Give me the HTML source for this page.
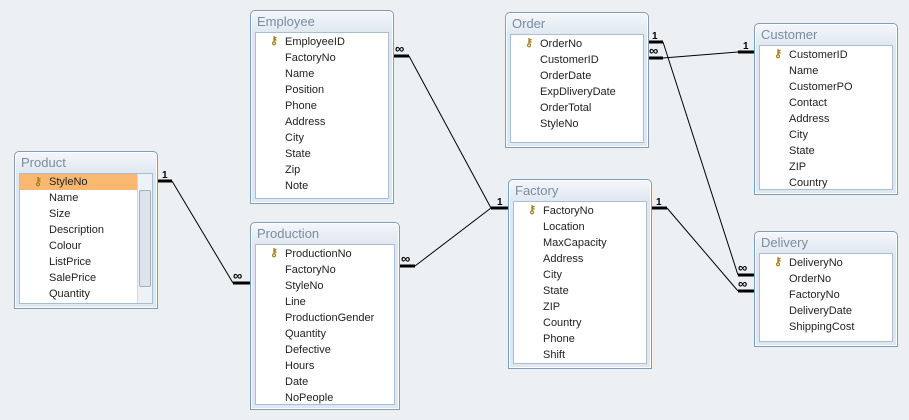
<!DOCTYPE html>
<html><head><meta charset="utf-8"><style>
body{margin:0;width:909px;height:420px;background:#edf0f3;position:relative;overflow:hidden;font-family:"Liberation Sans",sans-serif}
.t{position:absolute;border:1px solid #7f9db9;border-radius:5px 5px 0 0;background:linear-gradient(#f4f7fb,#dfe7f1 22px,#dfe7f1);box-shadow:inset 0 0 0 1px #fff}
.t .h{height:20px;line-height:22px;padding-left:6px;font-size:13px;color:#7a8ca0}
.t .b{position:absolute;left:4px;right:4px;top:21px;bottom:4px;background:#fff;border:1px solid #a9bdd3}
.r{position:absolute;left:0;font-size:11px;color:#222;height:16px;line-height:16px}
.k{position:absolute;font-size:11px;color:#a08020;font-weight:bold}
svg{position:absolute;left:0;top:0}
</style></head><body>
<svg width="909" height="420" stroke="#000">
<g stroke-width="1">
<line x1="172" y1="181" x2="233" y2="283"/>
<line x1="409" y1="56" x2="491" y2="208"/>
<line x1="415" y1="266" x2="491" y2="208"/>
<line x1="663" y1="58" x2="738" y2="52"/>
<line x1="663" y1="42" x2="738" y2="275"/>
<line x1="667" y1="208" x2="738" y2="291"/>
</g>
<g stroke-width="3">
<line x1="157" y1="181" x2="172" y2="181"/><line x1="233" y1="283" x2="250" y2="283"/>
<line x1="393" y1="56" x2="409" y2="56"/><line x1="491" y1="208" x2="508" y2="208"/>
<line x1="399" y1="266" x2="415" y2="266"/>
<line x1="647" y1="58" x2="663" y2="58"/><line x1="738" y1="52" x2="754" y2="52"/>
<line x1="647" y1="42" x2="663" y2="42"/><line x1="738" y1="275" x2="754" y2="275"/>
<line x1="651" y1="208" x2="667" y2="208"/><line x1="738" y1="291" x2="754" y2="291"/>
</g>
<g stroke="none" font-family="Liberation Sans" font-weight="bold" font-size="10">
<text x="162" y="178">1</text><text x="233" y="280" font-size="13">∞</text>
<text x="395" y="53" font-size="13">∞</text><text x="497" y="205">1</text>
<text x="401" y="263" font-size="13">∞</text>
<text x="652" y="39">1</text><text x="649" y="55" font-size="13">∞</text>
<text x="743" y="49">1</text>
<text x="656" y="205">1</text>
<text x="738" y="272" font-size="13">∞</text><text x="738" y="288" font-size="13">∞</text>
</g>
</svg>

<div class="t" style="left:14px;top:151px;width:142px;height:156px"><div class="h">Product</div><div class="b">
<div style="position:absolute;left:0;top:0;width:118px;height:16px;background:#f8b870"></div>
<div class="k" style="left:14px;top:1px">⚷</div>
<div style="position:absolute;right:0;top:0;width:14px;bottom:0;background:#eef1f5;border-left:1px solid #d0d8e0"><div style="position:absolute;left:1px;right:1px;top:16px;bottom:16px;background:#dde3ea;border:1px solid #a5b0bc;border-radius:2px"></div></div>
<div class="r" style="left:29px;top:0">StyleNo</div><div class="r" style="left:29px;top:16px">Name</div><div class="r" style="left:29px;top:32px">Size</div><div class="r" style="left:29px;top:48px">Description</div><div class="r" style="left:29px;top:64px">Colour</div><div class="r" style="left:29px;top:80px">ListPrice</div><div class="r" style="left:29px;top:96px">SalePrice</div><div class="r" style="left:29px;top:112px">Quantity</div>
</div></div>

<div class="t" style="left:250px;top:10px;width:142px;height:192px"><div class="h">Employee</div><div class="b">
<div class="k" style="left:14px;top:1px">⚷</div>
<div class="r" style="left:29px;top:1px">EmployeeID</div><div class="r" style="left:29px;top:17px">FactoryNo</div><div class="r" style="left:29px;top:33px">Name</div><div class="r" style="left:29px;top:49px">Position</div><div class="r" style="left:29px;top:65px">Phone</div><div class="r" style="left:29px;top:81px">Address</div><div class="r" style="left:29px;top:97px">City</div><div class="r" style="left:29px;top:113px">State</div><div class="r" style="left:29px;top:129px">Zip</div><div class="r" style="left:29px;top:145px">Note</div>
</div></div>

<div class="t" style="left:250px;top:222px;width:148px;height:186px"><div class="h">Production</div><div class="b">
<div class="k" style="left:14px;top:1px">⚷</div>
<div class="r" style="left:29px;top:1px">ProductionNo</div><div class="r" style="left:29px;top:17px">FactoryNo</div><div class="r" style="left:29px;top:33px">StyleNo</div><div class="r" style="left:29px;top:49px">Line</div><div class="r" style="left:29px;top:65px">ProductionGender</div><div class="r" style="left:29px;top:81px">Quantity</div><div class="r" style="left:29px;top:97px">Defective</div><div class="r" style="left:29px;top:113px">Hours</div><div class="r" style="left:29px;top:129px">Date</div><div class="r" style="left:29px;top:145px">NoPeople</div>
</div></div>

<div class="t" style="left:505px;top:12px;width:142px;height:134px"><div class="h">Order</div><div class="b">
<div class="k" style="left:14px;top:1px">⚷</div>
<div class="r" style="left:29px;top:1px">OrderNo</div><div class="r" style="left:29px;top:17px">CustomerID</div><div class="r" style="left:29px;top:33px">OrderDate</div><div class="r" style="left:29px;top:49px">ExpDliveryDate</div><div class="r" style="left:29px;top:65px">OrderTotal</div><div class="r" style="left:29px;top:81px">StyleNo</div>
</div></div>

<div class="t" style="left:508px;top:179px;width:142px;height:188px"><div class="h">Factory</div><div class="b">
<div class="k" style="left:14px;top:1px">⚷</div>
<div class="r" style="left:29px;top:1px">FactoryNo</div><div class="r" style="left:29px;top:17px">Location</div><div class="r" style="left:29px;top:33px">MaxCapacity</div><div class="r" style="left:29px;top:49px">Address</div><div class="r" style="left:29px;top:65px">City</div><div class="r" style="left:29px;top:81px">State</div><div class="r" style="left:29px;top:97px">ZIP</div><div class="r" style="left:29px;top:113px">Country</div><div class="r" style="left:29px;top:129px">Phone</div><div class="r" style="left:29px;top:145px">Shift</div>
</div></div>

<div class="t" style="left:754px;top:23px;width:142px;height:170px"><div class="h">Customer</div><div class="b">
<div class="k" style="left:14px;top:1px">⚷</div>
<div class="r" style="left:29px;top:1px">CustomerID</div><div class="r" style="left:29px;top:17px">Name</div><div class="r" style="left:29px;top:33px">CustomerPO</div><div class="r" style="left:29px;top:49px">Contact</div><div class="r" style="left:29px;top:65px">Address</div><div class="r" style="left:29px;top:81px">City</div><div class="r" style="left:29px;top:97px">State</div><div class="r" style="left:29px;top:113px">ZIP</div><div class="r" style="left:29px;top:129px">Country</div>
</div></div>

<div class="t" style="left:754px;top:231px;width:142px;height:114px"><div class="h">Delivery</div><div class="b">
<div class="k" style="left:14px;top:1px">⚷</div>
<div class="r" style="left:29px;top:1px">DeliveryNo</div><div class="r" style="left:29px;top:17px">OrderNo</div><div class="r" style="left:29px;top:33px">FactoryNo</div><div class="r" style="left:29px;top:49px">DeliveryDate</div><div class="r" style="left:29px;top:65px">ShippingCost</div>
</div></div>
</body></html>
